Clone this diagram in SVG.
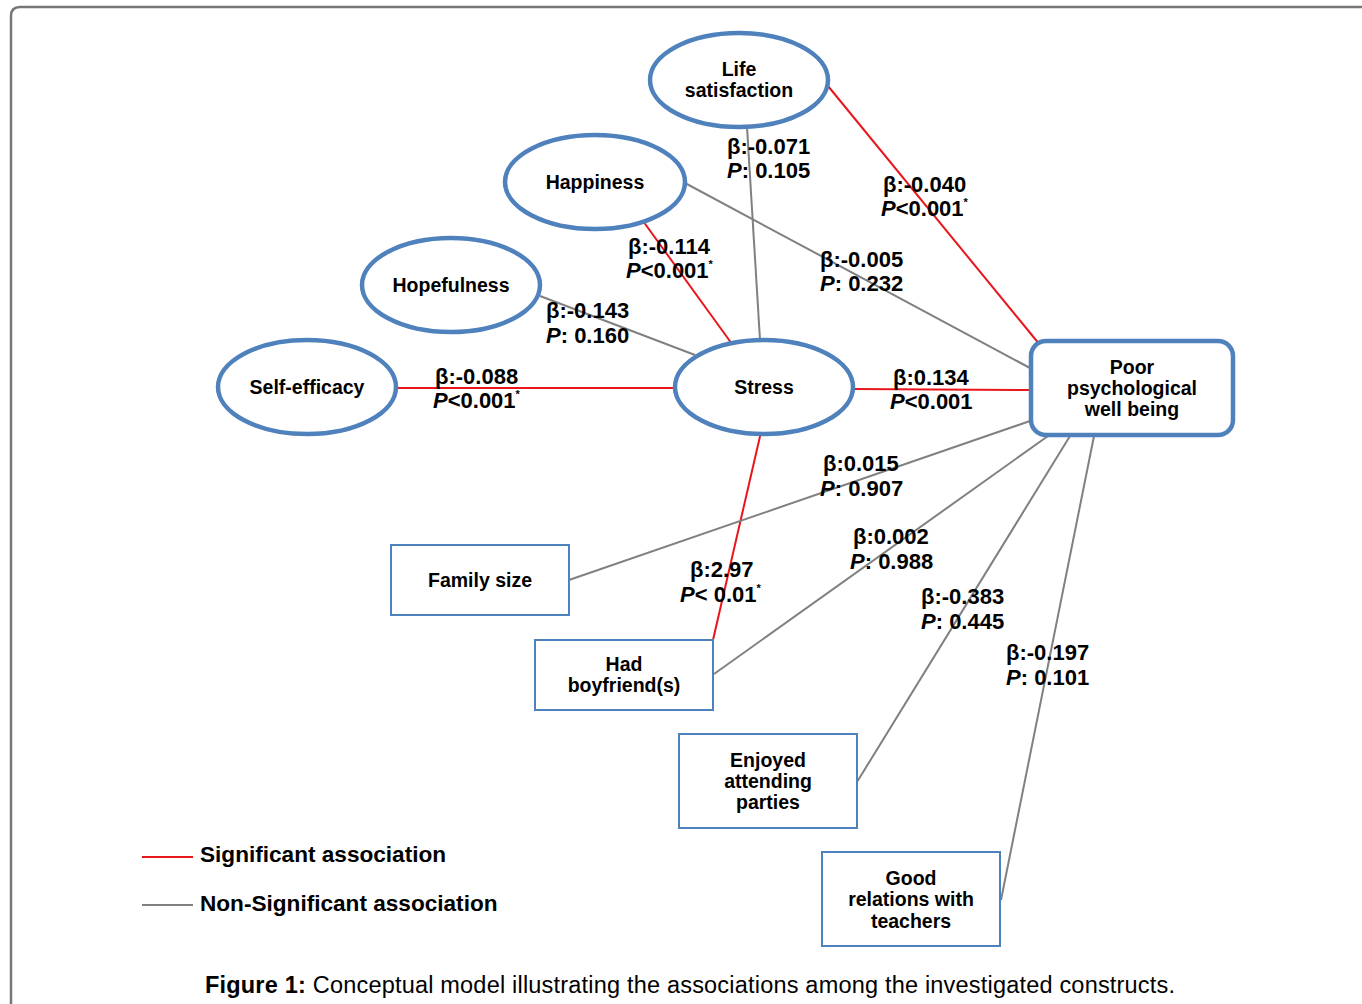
<svg xmlns="http://www.w3.org/2000/svg" width="1362" height="1004" viewBox="0 0 1362 1004">
<style>
.n{fill:#fff;stroke:#4F81BD;stroke-width:4.5}
.b{fill:#fff;stroke:#4F81BD;stroke-width:2}
.t{font-family:"Liberation Sans",Arial,sans-serif;font-weight:bold;font-size:19.5px;fill:#000;text-anchor:middle}
.l{font-family:"Liberation Sans",Arial,sans-serif;font-weight:bold;font-size:22px;fill:#000}
.lg{font-family:"Liberation Sans",Arial,sans-serif;font-weight:bold;font-size:22.6px;fill:#000}
.s{stroke:#E8161B;stroke-width:2;fill:none}
.g{stroke:#808080;stroke-width:2;fill:none}
.sup{font-size:11px}
</style>
<rect width="1362" height="1004" fill="#fff"/>
<path d="M11,1004 V16 Q11,7 20,7 H1362" fill="none" stroke="#777" stroke-width="2.5"/>
<g id="connectors">
<line class="s" x1="397" y1="388" x2="675" y2="388"/>
<line class="s" x1="853" y1="389" x2="1030" y2="390"/>
<line class="g" x1="540" y1="296" x2="695" y2="355"/>
<line class="s" x1="643" y1="221" x2="732" y2="344"/>
<line class="g" x1="747" y1="127" x2="760" y2="340"/>
<line class="g" x1="685" y1="183" x2="1030" y2="368"/>
<line class="s" x1="828" y1="86" x2="1040" y2="345"/>
<line class="s" x1="761" y1="432" x2="713" y2="640"/>
<line class="g" x1="569" y1="580" x2="1030" y2="421"/>
<line class="g" x1="714" y1="674" x2="1048" y2="436"/>
<line class="g" x1="857" y1="782" x2="1070" y2="436"/>
<line class="g" x1="1001" y1="900" x2="1094" y2="436"/>
<line class="s" x1="142" y1="857" x2="193" y2="857"/>
<line class="g" x1="142" y1="905" x2="193" y2="905"/>
</g>
<g id="life-satisfaction"><ellipse class="n" cx="739" cy="80" rx="89" ry="47"/><text class="t" x="739" y="76">Life</text><text class="t" x="739" y="97">satisfaction</text></g>
<g id="happiness"><ellipse class="n" cx="595" cy="182" rx="90" ry="47"/><text class="t" x="595" y="189">Happiness</text></g>
<g id="hopefulness"><ellipse class="n" cx="451" cy="285" rx="89" ry="47"/><text class="t" x="451" y="292">Hopefulness</text></g>
<g id="self-efficacy"><ellipse class="n" cx="307" cy="387" rx="89" ry="47"/><text class="t" x="307" y="394">Self-efficacy</text></g>
<g id="stress"><ellipse class="n" cx="764" cy="387" rx="89" ry="47"/><text class="t" x="764" y="394">Stress</text></g>
<g id="poor-psychological-well-being"><rect class="n" x="1031" y="341" width="202" height="94" rx="15"/><text class="t" x="1132" y="374">Poor</text><text class="t" x="1132" y="395">psychological</text><text class="t" x="1132" y="416">well being</text></g>
<g id="family-size"><rect class="b" x="391" y="545" width="178" height="70"/><text class="t" x="480" y="587">Family size</text></g>
<g id="had-boyfriends"><rect class="b" x="535" y="640" width="178" height="70"/><text class="t" x="624" y="671">Had</text><text class="t" x="624" y="692">boyfriend(s)</text></g>
<g id="enjoyed-attending-parties"><rect class="b" x="679" y="734" width="178" height="94"/><text class="t" x="768" y="767">Enjoyed</text><text class="t" x="768" y="788">attending</text><text class="t" x="768" y="809">parties</text></g>
<g id="good-relations-with-teachers"><rect class="b" x="822" y="852" width="178" height="94"/><text class="t" x="911" y="885">Good</text><text class="t" x="911" y="906">relations with</text><text class="t" x="911" y="928">teachers</text></g>
<g id="labels">
<text class="l" x="727" y="154">β:-0.071</text><text class="l" x="727" y="178"><tspan font-style="italic">P</tspan>: 0.105</text>
<text class="l" x="883" y="192">β:-0.040</text><text class="l" x="881" y="216"><tspan font-style="italic">P</tspan>&lt;0.001<tspan class="sup" dy="-10">*</tspan></text>
<text class="l" x="628" y="254">β:-0.114</text><text class="l" x="626" y="278"><tspan font-style="italic">P</tspan>&lt;0.001<tspan class="sup" dy="-10">*</tspan></text>
<text class="l" x="820" y="267">β:-0.005</text><text class="l" x="820" y="291"><tspan font-style="italic">P</tspan>: 0.232</text>
<text class="l" x="546" y="318">β:-0.143</text><text class="l" x="546" y="343"><tspan font-style="italic">P</tspan>: 0.160</text>
<text class="l" x="435" y="384">β:-0.088</text><text class="l" x="433" y="408"><tspan font-style="italic">P</tspan>&lt;0.001<tspan class="sup" dy="-10">*</tspan></text>
<text class="l" x="893" y="385">β:0.134</text><text class="l" x="890" y="409"><tspan font-style="italic">P</tspan>&lt;0.001</text>
<text class="l" x="823" y="471">β:0.015</text><text class="l" x="820" y="496"><tspan font-style="italic">P</tspan>: 0.907</text>
<text class="l" x="853" y="544">β:0.002</text><text class="l" x="850" y="569"><tspan font-style="italic">P</tspan>: 0.988</text>
<text class="l" x="690" y="577">β:2.97</text><text class="l" x="680" y="602"><tspan font-style="italic">P</tspan>&lt; 0.01<tspan class="sup" dy="-10">*</tspan></text>
<text class="l" x="921" y="604">β:-0.383</text><text class="l" x="921" y="629"><tspan font-style="italic">P</tspan>: 0.445</text>
<text class="l" x="1006" y="660">β:-0.197</text><text class="l" x="1006" y="685"><tspan font-style="italic">P</tspan>: 0.101</text>
</g>
<g id="legend">
<text class="lg" x="200" y="862">Significant association</text>
<text class="lg" x="200" y="911">Non-Significant association</text>
</g>
<text x="205" y="993" font-family="'Liberation Sans',Arial,sans-serif" font-size="23.5" fill="#000" textLength="970" lengthAdjust="spacing"><tspan font-weight="bold">Figure 1:</tspan> Conceptual model illustrating the associations among the investigated constructs.</text>
</svg>
